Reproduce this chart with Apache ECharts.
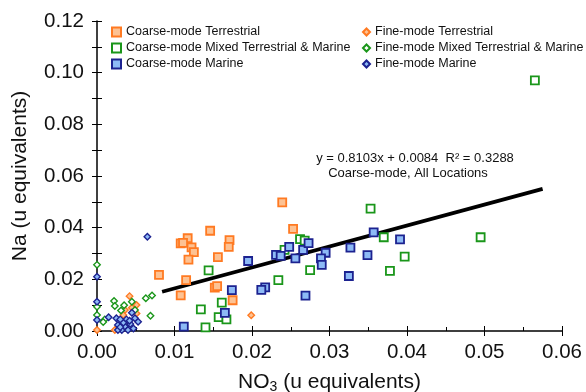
<!DOCTYPE html>
<html>
<head>
<meta charset="utf-8">
<script src="https://cdn.jsdelivr.net/npm/echarts@6/dist/echarts.min.js"></script>
<style>html,body{margin:0;padding:0;background:#fff;}#c{width:586px;height:392px;}</style>
</head>
<body>
<div id="c"></div>
<script>
const xTicks = [0, 0.01, 0.02, 0.03, 0.04, 0.05, 0.06];
const yTicks = [0, 0.02, 0.04, 0.06, 0.08, 0.10, 0.12];

const coarseTerrestrial = [[0.0146,0.0388],[0.0117,0.0359],[0.0108,0.0339],[0.0171,0.0352],[0.0170,0.0326],[0.0122,0.0324],[0.0125,0.0305],[0.0118,0.0276],[0.0156,0.0286],[0.0080,0.0217],[0.0115,0.0197],[0.0108,0.0138],[0.0152,0.0168],[0.0155,0.0174],[0.0175,0.0119],[0.0239,0.0498],[0.0253,0.0395],[0.0111,0.0341]];
const coarseMixed = [[0.0144,0.0235],[0.0161,0.0110],[0.0134,0.0084],[0.0157,0.0054],[0.0167,0.0045],[0.0140,0.0014],[0.0353,0.0474],[0.0262,0.0356],[0.0268,0.0350],[0.0242,0.0314],[0.0370,0.0363],[0.0397,0.0288],[0.0275,0.0236],[0.0378,0.0233],[0.0234,0.0197],[0.0565,0.0970],[0.0495,0.0363]];
const coarseMarine = [[0.0231,0.0295],[0.0237,0.0291],[0.0248,0.0326],[0.0256,0.0281],[0.0266,0.0314],[0.0273,0.0340],[0.0295,0.0303],[0.0289,0.0281],[0.0290,0.0256],[0.0327,0.0323],[0.0349,0.0294],[0.0357,0.0382],[0.0391,0.0355],[0.0325,0.0213],[0.0217,0.0169],[0.0212,0.0159],[0.0269,0.0137],[0.0195,0.0271],[0.0174,0.0158],[0.0165,0.0070],[0.0112,0.0017]];
const fineTerrestrial = [[0.0199,0.0061],[0,0.0004],[0.0023,0.0004],[0.0042,0.0135],[0.0051,0.0101],[0.0036,0.0081],[0.0051,0.0068],[0.0034,0.0062],[0.0040,0.0030],[0.0045,0.0090]];
const fineMixed = [[0,0.0256],[0,0.0094],[0,0.0062],[0.0022,0.0116],[0.0010,0.0045],[0.0023,0.0097],[0.0031,0.0079],[0.0045,0.0113],[0.0063,0.0127],[0.0071,0.0137],[0.0069,0.0059],[0.0049,0.0081],[0.0008,0.0035],[0.0035,0.0100]];
const fineMarine = [[0.0065,0.0365],[0,0.0210],[0,0.0113],[0,0.0043],[0.0015,0.0053],[0.0025,0.0049],[0.0027,0.0023],[0.0032,0.0004],[0.0036,0.0017],[0.0038,0.0045],[0.0045,0.0071],[0.0053,0.0036],[0.0043,0.0027],[0.0040,0.0004],[0.0047,0.0010],[0.0027,0.0004],[0.0034,0.0032],[0.0049,0.0049],[0.0030,0.0045],[0.0030,0.0015],[0.0042,0.0040]];

const fitSlope = 0.8103;
const fitIntercept = 0.0084;
const fitXRange = [0.0084, 0.0575];
const fitLabel1 = 'y = 0.8103x + 0.0084  R² = 0.3288';
const fitLabel2 = 'Coarse-mode, All Locations';

const FONT = 'Liberation Sans, Arial, sans-serif';
const ORANGE = '#FF7A22', ORANGE_F = '#FDC293';
const GREEN = '#1A961A';
const NAVY = '#1C2290', BLUE_F = '#8DBAF6';

const chart = echarts.init(document.getElementById('c'), null, {renderer: 'canvas'});

function sq(name, data, border, fill) {
  return {name, type: 'scatter', data, symbol: 'rect', symbolSize: 8,
    itemStyle: {color: fill, borderColor: border, borderWidth: 1.8, opacity: 1}};
}
function dm(name, data, border, fill) {
  return {name, type: 'scatter', data, symbol: 'diamond', symbolSize: 6.5,
    itemStyle: {color: fill, borderColor: border, borderWidth: 1.4, opacity: 1}};
}

const mainX = {
  type: 'value', min: 0, max: 0.06, interval: 0.01, position: 'bottom',
  axisLine: {show: true, onZero: false, lineStyle: {color: '#000', width: 1.5}},
  axisTick: {show: true, inside: false, length: 5, lineStyle: {color: '#000', width: 1}},
  axisLabel: {show: true, margin: 11, fontSize: 20.5, color: '#111', fontFamily: FONT,
    formatter: v => v.toFixed(2)},
  splitLine: {show: false},
  name: '{n|NO}{s|3}{n| (u equivalents)}', nameLocation: 'middle', nameGap: 39,
  nameTextStyle: {rich: {
    n: {fontSize: 21, color: '#111', fontFamily: FONT, lineHeight: 24, verticalAlign: 'middle'},
    s: {fontSize: 14, color: '#111', fontFamily: FONT, lineHeight: 24, verticalAlign: 'middle', padding: [10, 0, 0, 0]}
  }}
};
const overX = {
  type: 'value', min: 0, max: 0.06, interval: 0.01, position: 'bottom',
  axisLine: {show: false, onZero: false},
  axisTick: {show: true, inside: true, length: 5, lineStyle: {color: '#000', width: 1}},
  minorTick: {show: true, splitNumber: 2, length: 4, lineStyle: {color: '#000', width: 1}},
  axisLabel: {show: false}, splitLine: {show: false}
};
const mainY = {
  type: 'value', min: 0, max: 0.12, interval: 0.02, position: 'left',
  axisLine: {show: true, onZero: false, lineStyle: {color: '#000', width: 1.5}},
  axisTick: {show: true, inside: false, length: 5, lineStyle: {color: '#000', width: 1}},
  minorTick: {show: true, splitNumber: 2, length: 5, lineStyle: {color: '#000', width: 1}},
  axisLabel: {show: true, margin: 13, fontSize: 20.5, color: '#111', fontFamily: FONT,
    formatter: v => v.toFixed(2)},
  splitLine: {show: false},
  name: 'Na (u equivalents)', nameLocation: 'middle', nameGap: 66,
  nameTextStyle: {fontSize: 21, color: '#111', fontFamily: FONT}
};
const overY = {
  type: 'value', min: 0, max: 0.12, interval: 0.02, position: 'left',
  axisLine: {show: false, onZero: false},
  axisTick: {show: true, inside: true, length: 5, lineStyle: {color: '#000', width: 1}},
  minorTick: {show: true, splitNumber: 2, length: 5, lineStyle: {color: '#000', width: 1}},
  axisLabel: {show: false}, splitLine: {show: false}
};

const legendText = {fontSize: 12.5, color: '#111', fontFamily: FONT, lineHeight: 14};

chart.setOption({
  animation: false,
  backgroundColor: '#fff',
  grid: {left: 97, right: 24, top: 21, bottom: 61, containLabel: false, outerBoundsMode: 'none'},
  xAxis: [mainX, overX],
  yAxis: [mainY, overY],
  legend: [
    {orient: 'vertical', left: 106, top: 20, itemGap: 2, itemWidth: 9, itemHeight: 9,
      textStyle: legendText,
      data: ['Coarse-mode Terrestrial', 'Coarse-mode Mixed Terrestrial & Marine', 'Coarse-mode Marine']},
    {orient: 'vertical', left: 357, top: 20, itemGap: 2, itemWidth: 7, itemHeight: 7,
      textStyle: legendText,
      data: ['Fine-mode Terrestrial', 'Fine-mode Mixed Terrestrial & Marine', 'Fine-mode Marine']}
  ],
  graphic: [
    {type: 'text', x: 415, y: 158, style: {text: fitLabel1, x: 0, y: 0, align: 'center', verticalAlign: 'middle',
      fontSize: 13, fill: '#111', fontFamily: FONT}},
    {type: 'text', x: 408, y: 173, style: {text: fitLabel2, x: 0, y: 0, align: 'center', verticalAlign: 'middle',
      fontSize: 13, fill: '#111', fontFamily: FONT}}
  ],
  series: [
    {name: 'fit', type: 'line', data: fitXRange.map(x => [x, fitSlope * x + fitIntercept]),
      symbol: 'none', lineStyle: {color: '#000', width: 3.8}, z: 1, silent: true},
    sq('Coarse-mode Terrestrial', coarseTerrestrial, ORANGE, ORANGE_F),
    sq('Coarse-mode Mixed Terrestrial & Marine', coarseMixed, GREEN, '#ffffff'),
    sq('Coarse-mode Marine', coarseMarine, NAVY, BLUE_F),
    dm('Fine-mode Terrestrial', fineTerrestrial, ORANGE, ORANGE_F),
    dm('Fine-mode Mixed Terrestrial & Marine', fineMixed, GREEN, '#ffffff'),
    dm('Fine-mode Marine', fineMarine, NAVY, BLUE_F)
  ]
});
</script>
</body>
</html>
